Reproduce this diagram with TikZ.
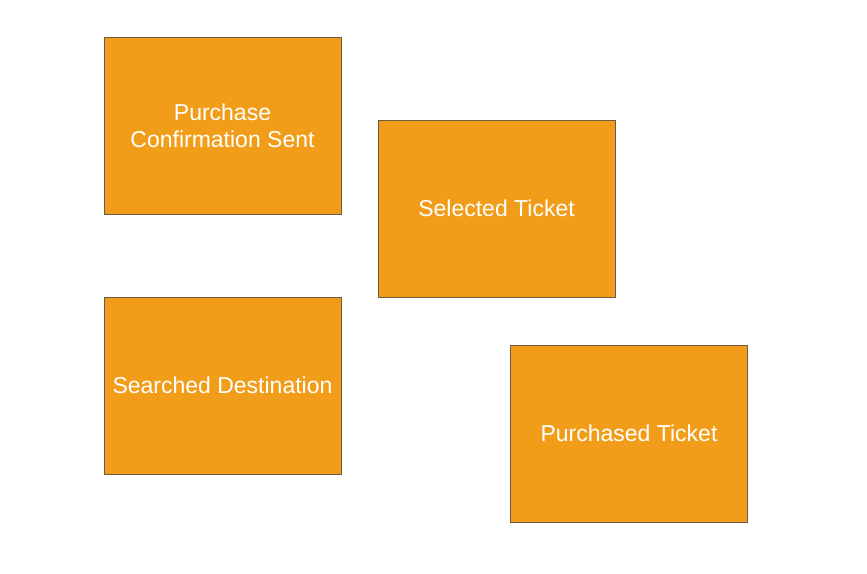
\documentclass[tikz,border=0pt]{standalone}
\usepackage{fontspec}
\setmainfont{Liberation Sans}
\definecolor{boxfill}{HTML}{F29D19}
\definecolor{boxline}{HTML}{6E5A45}
\begin{document}
\begin{tikzpicture}[x=1pt,y=-1pt,
  statebox/.style={draw=boxline, line width=0.6pt, fill=boxfill, minimum width=237pt, minimum height=177pt,
    text=white, align=center, inner sep=0pt, font=\fontsize{23}{27}\selectfont}]
\useasboundingbox (0,0) rectangle (867,573);
\node[statebox] (confirm) at (222.5,125.5) {Purchase\\Confirmation Sent};
\node[statebox] (selected) at (496.5,208.5) {Selected Ticket};
\node[statebox] (searched) at (222.5,385.5) {Searched Destination};
\node[statebox] (purchased) at (629,433.5) {Purchased Ticket};
\end{tikzpicture}
\end{document}
